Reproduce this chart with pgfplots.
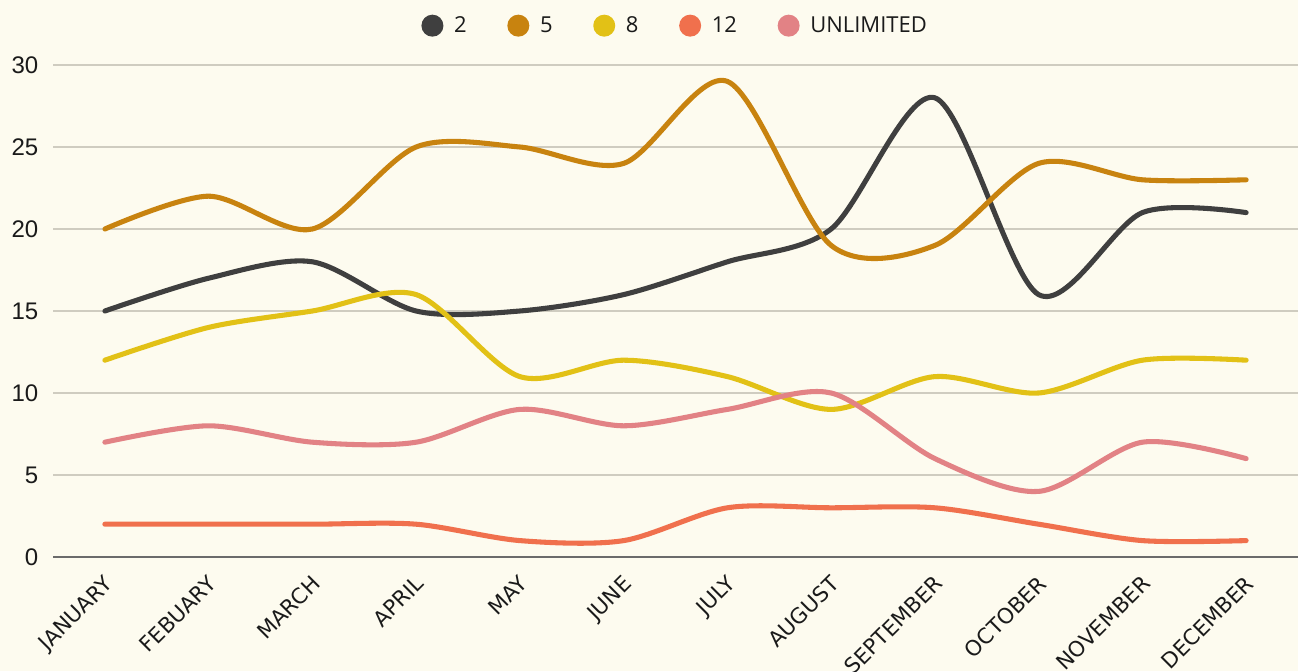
\documentclass[border=0pt]{standalone}
\usepackage{pgfplots}
\pgfplotsset{compat=1.18}
\usepackage{fontspec}
\setmainfont{Open Sans}
\newfontfamily\dejavu{DejaVu Sans}
\newfontfamily\arialish{Liberation Sans}

\definecolor{bg}{HTML}{FDFBEF}
\definecolor{gridc}{HTML}{CFCCC0}
\definecolor{basec}{HTML}{6B6B6B}
\definecolor{txt}{HTML}{1A1A1A}
\definecolor{cTwo}{HTML}{3F3F3F}
\definecolor{cFive}{HTML}{C8830F}
\definecolor{cEight}{HTML}{E2C116}
\definecolor{cTwelve}{HTML}{F0704D}
\definecolor{cUnl}{HTML}{E28285}

\begin{document}
\begin{tikzpicture}[x=0.75pt,y=0.75pt]
\useasboundingbox (0,0) rectangle (1298,671);
\fill[bg] (0,0) rectangle (1298,671);
\begin{axis}[
    at={(39.75pt,85.5pt)}, anchor=south west,
    scale only axis,
    width=933.75pt, height=369pt,
    xmin=-0.5, xmax=11.5,
    ymin=0, ymax=30,
    xtick={0,...,11},
    xticklabels={JANUARY,FEBUARY,MARCH,APRIL,MAY,JUNE,JULY,AUGUST,SEPTEMBER,OCTOBER,NOVEMBER,DECEMBER},
    ytick={0,5,...,30},
    ymajorgrids,
    major grid style={draw=gridc, line width=0.9pt},
    axis line style={draw=none},
    major tick length=0pt,
    tick style={draw=none},
    /pgf/number format/assume math mode=true,
    yticklabel style={font=\arialish\fontsize{18}{19}\selectfont, text=txt, xshift=-7.5pt},
    xticklabel style={xshift=-1.5pt, yshift=-8pt, rotate=45, anchor=north east, font=\dejavu\fontsize{16}{17}\selectfont, text=txt},
    legend style={at={(0.5,1)}, anchor=center, yshift=29.5pt,
        legend columns=-1, draw=none, fill=none,
        font=\fontsize{16.5}{17}\selectfont, text=txt,
        /tikz/every odd column/.append style={column sep=6pt},
        /tikz/every even column/.append style={column sep=28.5pt}},
    legend image code/.code={\fill[#1, draw=none] (4pt,0pt) circle (8.25pt);},
    every axis plot/.append style={line width=3.8pt, line cap=round, smooth, tension=0.5},
]
\addplot[cTwo] coordinates {(0,15) (1,17) (2,18) (3,15) (4,15) (5,16) (6,18) (7,20) (8,28) (9,16) (10,21) (11,21)};
\addlegendentry{2}
\addplot[cFive] coordinates {(0,20) (1,22) (2,20) (3,25) (4,25) (5,24) (6,29) (7,19) (8,19) (9,24) (10,23) (11,23)};
\addlegendentry{5}
\addplot[cEight] coordinates {(0,12) (1,14) (2,15) (3,16) (4,11) (5,12) (6,11) (7,9) (8,11) (9,10) (10,12) (11,12)};
\addlegendentry{8}
\addplot[cTwelve] coordinates {(0,2) (1,2) (2,2) (3,2) (4,1) (5,1) (6,3) (7,3) (8,3) (9,2) (10,1) (11,1)};
\addlegendentry{12}
\addplot[cUnl] coordinates {(0,7) (1,8) (2,7) (3,7) (4,9) (5,8) (6,9) (7,10) (8,6) (9,4) (10,7) (11,6)};
\addlegendentry{UNLIMITED}
\draw[basec, line width=0.9pt] (axis cs:-0.5,0) -- (axis cs:11.5,0);
\end{axis}
\end{tikzpicture}
\end{document}
